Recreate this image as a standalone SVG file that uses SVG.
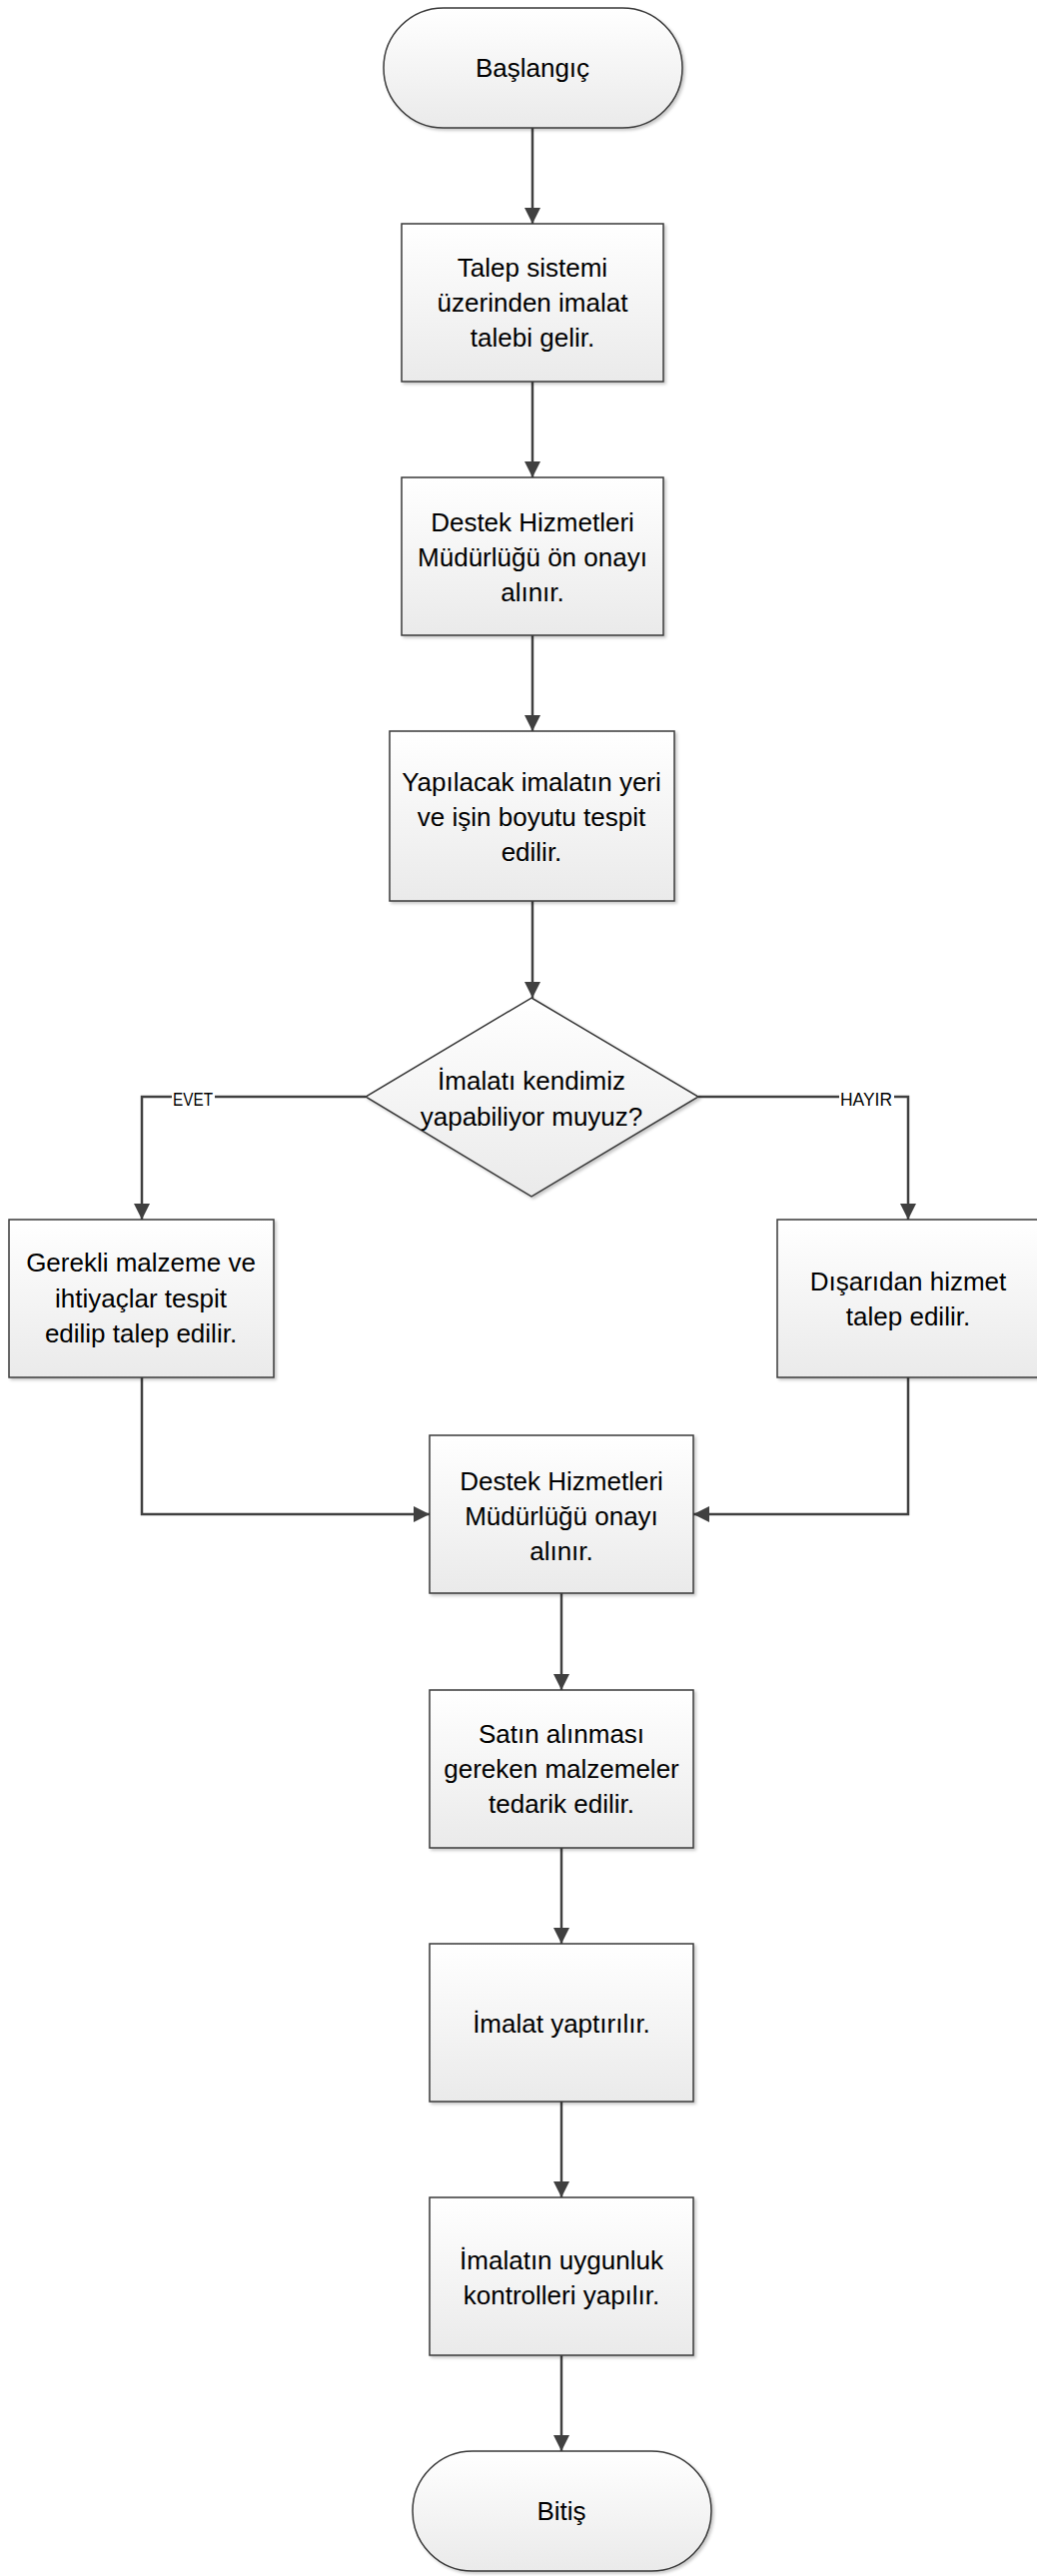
<svg xmlns="http://www.w3.org/2000/svg" width="1038" height="2579" viewBox="0 0 1038 2579">
<style>
.shape{stroke:#3a3a3a;stroke-width:1.5;fill:url(#g);filter:url(#sh)}
.t{font-family:"Liberation Sans",Arial,sans-serif;font-size:26px;fill:#000;text-anchor:middle}
.lbl{font-family:"Liberation Sans",Arial,sans-serif;font-size:18px;fill:#000;text-anchor:middle}
.c{fill:none;stroke:#404040;stroke-width:2.5;marker-end:url(#a)}
</style>
<defs>
<linearGradient id="g" x1="0" y1="0" x2="0" y2="1">
<stop offset="0" stop-color="#ffffff"/>
<stop offset="1" stop-color="#eaeaea"/>
</linearGradient>
<filter id="sh" x="-10%" y="-10%" width="130%" height="130%">
<feDropShadow dx="2" dy="2" stdDeviation="1.5" flood-color="#000" flood-opacity="0.22"/>
</filter>
<marker id="a" markerUnits="userSpaceOnUse" markerWidth="16" markerHeight="16" refX="16" refY="8" orient="auto">
<path d="M0,0 L16,8 L0,16 z" fill="#404040"/>
</marker>
</defs>
<g id="connectors">
<path class="c" d="M533,128 V224"/>
<path class="c" d="M533,382 V478"/>
<path class="c" d="M533,636 V732"/>
<path class="c" d="M533,902 V999"/>
<path class="c" d="M366,1098 H142 V1221"/>
<path class="c" d="M699,1098 H909 V1221"/>
<path class="c" d="M142,1379 V1516 H430"/>
<path class="c" d="M909,1379 V1516 H694"/>
<path class="c" d="M562,1595 V1692"/>
<path class="c" d="M562,1850 V1946"/>
<path class="c" d="M562,2104 V2200"/>
<path class="c" d="M562,2358 V2454"/>
<g id="lbl-evet"><rect x="172" y="1090" width="43" height="20" fill="#fff"/><text class="lbl" x="193" y="1107" textLength="40" lengthAdjust="spacingAndGlyphs">EVET</text></g>
<g id="lbl-hayir"><rect x="840" y="1090" width="55" height="20" fill="#fff"/><text class="lbl" x="867" y="1107" textLength="52" lengthAdjust="spacingAndGlyphs">HAYIR</text></g>
</g>
<g id="start"><rect class="shape" x="384" y="8" width="299" height="120" rx="60" ry="60"/><text class="t" x="533" y="77">Başlangıç</text></g>
<g id="n1"><rect class="shape" x="402" y="224" width="262" height="158"/>
<text class="t" x="533" y="277">Talep sistemi</text><text class="t" x="533" y="312">üzerinden imalat</text><text class="t" x="533" y="347">talebi gelir.</text></g>
<g id="n2"><rect class="shape" x="402" y="478" width="262" height="158"/>
<text class="t" x="533" y="532">Destek Hizmetleri</text><text class="t" x="533" y="567">Müdürlüğü ön onayı</text><text class="t" x="533" y="602">alınır.</text></g>
<g id="n3"><rect class="shape" x="390" y="732" width="285" height="170"/>
<text class="t" x="532" y="792">Yapılacak imalatın yeri</text><text class="t" x="532" y="827">ve işin boyutu tespit</text><text class="t" x="532" y="862">edilir.</text></g>
<g id="d1"><polygon class="shape" points="532,999 699,1098 532,1198 366,1098"/>
<text class="t" x="532" y="1091">İmalatı kendimiz</text><text class="t" x="532" y="1127">yapabiliyor muyuz?</text></g>
<g id="n4"><rect class="shape" x="9" y="1221" width="265" height="158"/>
<text class="t" x="141" y="1273">Gerekli malzeme ve</text><text class="t" x="141" y="1309">ihtiyaçlar tespit</text><text class="t" x="141" y="1344">edilip talep edilir.</text></g>
<g id="n5"><rect class="shape" x="778" y="1221" width="264" height="158"/>
<text class="t" x="909" y="1292">Dışarıdan hizmet</text><text class="t" x="909" y="1327">talep edilir.</text></g>
<g id="n6"><rect class="shape" x="430" y="1437" width="264" height="158"/>
<text class="t" x="562" y="1492">Destek Hizmetleri</text><text class="t" x="562" y="1527">Müdürlüğü onayı</text><text class="t" x="562" y="1562">alınır.</text></g>
<g id="n7"><rect class="shape" x="430" y="1692" width="264" height="158"/>
<text class="t" x="562" y="1745">Satın alınması</text><text class="t" x="562" y="1780">gereken malzemeler</text><text class="t" x="562" y="1815">tedarik edilir.</text></g>
<g id="n8"><rect class="shape" x="430" y="1946" width="264" height="158"/>
<text class="t" x="562" y="2035">İmalat yaptırılır.</text></g>
<g id="n9"><rect class="shape" x="430" y="2200" width="264" height="158"/>
<text class="t" x="562" y="2272">İmalatın uygunluk</text><text class="t" x="562" y="2307">kontrolleri yapılır.</text></g>
<g id="end"><rect class="shape" x="413" y="2454" width="299" height="120" rx="60" ry="60"/><text class="t" x="562" y="2523">Bitiş</text></g>
</svg>
